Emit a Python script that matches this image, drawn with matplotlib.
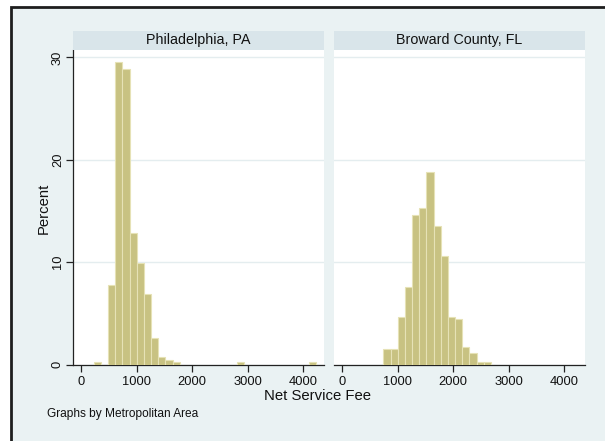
import numpy as np
import matplotlib
matplotlib.use("Agg")
import matplotlib.pyplot as plt
from matplotlib.patches import Rectangle

plt.rcParams['font.family'] = ['Liberation Sans', 'DejaVu Sans']

# Histogram bins shared by both panels
bin_start = 230
bin_width = 129
n_bins = 31

panels = ["Philadelphia, PA", "Broward County, FL"]

# Percent of listings per bin
phila_pct = [0.23, 0.0, 7.76, 29.56, 28.88, 12.86, 9.91, 6.90, 2.58, 0.74,
             0.40, 0.24, 0, 0, 0, 0, 0, 0, 0, 0,
             0.23, 0, 0, 0, 0, 0, 0, 0, 0, 0,
             0.23]
broward_pct = [0, 0, 0, 0, 1.49, 1.49, 4.67, 7.58, 14.60, 15.33,
               18.85, 13.48, 10.55, 4.67, 4.44, 1.68, 1.16, 0.24, 0.24, 0,
               0, 0, 0, 0, 0, 0, 0, 0, 0, 0,
               0]

x_ticks = [0, 1000, 2000, 3000, 4000]
y_ticks = [0, 10, 20, 30]

BG = "#eaf2f3"
STRIP = "#d9e5ea"
GRID = "#e4edef"
BAR = "#c8c282"
BAR_EDGE = "#e6e2b6"

W, H = 605, 441
fig = plt.figure(figsize=(W / 100, H / 100), dpi=100)
fig.patch.set_facecolor("white")

# Outer graph region with its frame
fig.patches.append(Rectangle((11 / W, -0.05), 1.1, 1 - 7 / H + 0.05,
                             transform=fig.transFigure, facecolor=BG,
                             edgecolor="#1e1e1e", linewidth=2.0, zorder=-5))

def px_axes(x0, y0, x1, y1):
    return fig.add_axes([x0 / W, 1 - y1 / H, (x1 - x0) / W, (y1 - y0) / H])

edges = bin_start + bin_width * np.arange(n_bins)
panel_x = [(73, 324), (334, 585)]
data = [phila_pct, broward_pct]

for i, (name, (x0, x1), vals) in enumerate(zip(panels, panel_x, data)):
    ax = px_axes(x0, 50, x1, 364.5)
    ax.set_facecolor("white")
    vals = np.asarray(vals, dtype=float)
    keep = vals > 0
    ax.bar(edges[keep], vals[keep], width=bin_width, align="edge",
           color=BAR, edgecolor=BAR_EDGE, linewidth=0.8, zorder=3)
    ax.set_xlim(-142, 4372)
    ax.set_ylim(0, 30.72)
    ax.set_yticks(y_ticks)
    ax.set_xticks(x_ticks)
    ax.yaxis.grid(True, color=GRID, linewidth=1.0, zorder=0)
    ax.set_axisbelow(True)
    for s in ("top", "right"):
        ax.spines[s].set_visible(False)
    ax.spines["bottom"].set_color("#222222")
    ax.spines["bottom"].set_linewidth(0.9)
    ax.tick_params(axis="x", length=5, width=0.9, color="#222222",
                   labelsize=9.3, pad=3, labelcolor="#111111")
    if i == 0:
        ax.spines["left"].set_color("#222222")
        ax.spines["left"].set_linewidth(0.9)
        ax.tick_params(axis="y", length=5, width=0.9, color="#222222",
                       labelsize=9.3, pad=1.5, labelcolor="#111111")
        for lab in ax.get_yticklabels():
            lab.set_rotation(90)
            lab.set_va("center")
    else:
        ax.spines["left"].set_visible(False)
        ax.tick_params(axis="y", length=0, labelleft=False)

    sax = px_axes(x0, 31, x1, 49.5)
    sax.set_facecolor(STRIP)
    sax.set_xticks([])
    sax.set_yticks([])
    for s in sax.spines.values():
        s.set_visible(False)
    sax.text(0.5, 0.5, name, ha="center", va="center", fontsize=10.3,
             color="#111111", transform=sax.transAxes)

fig.text(44 / W, 1 - 208 / H, "Percent", rotation=90, ha="center",
         va="center", fontsize=10.7, color="#111111")
fig.text(317 / W, 1 - 396.5 / H, "Net Service Fee", ha="center",
         va="center", fontsize=10.7, color="#111111")
fig.text(47 / W, 1 - 413.5 / H, "Graphs by Metropolitan Area", ha="left",
         va="center", fontsize=8.6, color="#111111")

fig.savefig("out.png", dpi=100, facecolor=fig.get_facecolor())
